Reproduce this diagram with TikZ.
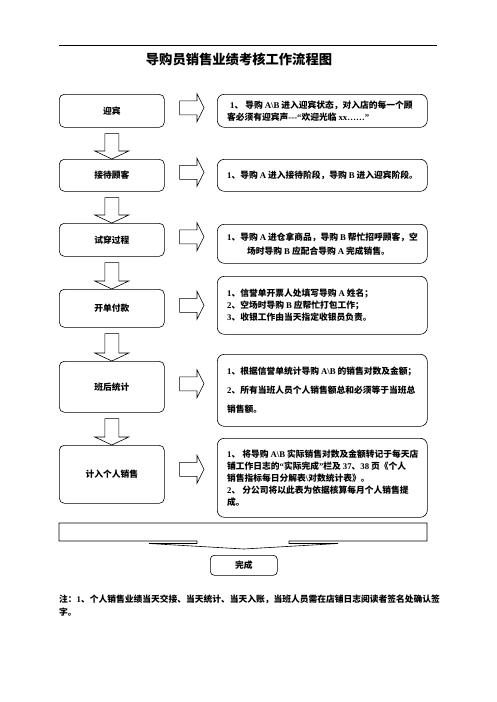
\documentclass[tikz,border=0pt]{standalone}
\usepackage{fontspec}
\setmainfont{Noto Sans CJK SC}
\newfontfamily\lat{Liberation Serif}
\usetikzlibrary{calc}
\newcommand\myrarr[3]{\draw[blk]
 ($(#1.east)+(15,#3-7)$) -- ($(#2.west |- #1.east)+(-20,#3-7)$) -- ($(#2.west |- #1.east)+(-20,#3-14)$) -- ($(#2.west |- #1.east)+(-13,#3)$) -- ($(#2.west |- #1.east)+(-20,#3+14)$) -- ($(#2.west |- #1.east)+(-20,#3+7)$) -- ($(#1.east)+(15,#3+7)$) -- cycle;}
\newcommand\mydarr[2]{\draw[blk] ([shift={(-7,6)}]#1.south) -- ([shift={(7,6)}]#1.south) -- ([shift={(7,-8)}]#2.north) -- ([shift={(17,-8)}]#2.north) -- (#2.north) -- ([shift={(-17,-8)}]#2.north) -- ([shift={(-7,-8)}]#2.north) -- cycle;}
\begin{document}
\begin{tikzpicture}[x=1pt,y=-1pt,
 every node/.style={font=\bfseries\fontsize{8.75}{12}\selectfont},
 lbox/.style={draw,rounded corners=5pt,minimum width=105pt,anchor=north west,inner sep=0pt,line width=0.6pt},
 rbox/.style={draw,rounded corners=7pt,minimum width=210pt,anchor=north west,inner sep=0pt,line width=0.6pt},
 rtext/.style={anchor=west,align=left,inner sep=0pt},
 blk/.style={draw,line width=0.6pt,fill=white}]
\fill[white] (0,0) rectangle (496,702);
\useasboundingbox (0,0) rectangle (496,702);
\draw[line width=0.7pt] (59,45) -- (437,45);
\node[font=\bfseries\fontsize{13.3}{16}\selectfont] (title) at (239,59) {导购员销售业绩考核工作流程图};
% left boxes
\node[lbox,minimum height=33pt] (b1) at (59,94) {迎宾};
\node[lbox,minimum height=32pt] (b2) at (59,159) {接待顾客};
\node[lbox,minimum height=33pt] (b3) at (59,223) {试穿过程};
\node[lbox,minimum height=38pt] (b4) at (59,289) {开单付款};
\node[lbox,minimum height=51pt] (b5) at (59,361) {班后统计};
\node[lbox,minimum height=58pt] (b6) at (59,445) {计入个人销售};
% right boxes
\node[rbox,minimum height=33pt] (r1) at (217,94) {};
\node[rbox,minimum height=32pt] (r2) at (217,159) {};
\node[rbox,minimum height=39pt] (r3) at (217,224) {};
\node[rbox,minimum height=58pt] (r4) at (217,276) {};
\node[rbox,minimum height=72pt] (r5) at (217,354) {};
\node[rbox,minimum height=79pt] (r6) at (217,438) {};
\node[rtext] (t1) at ([xshift=10pt]r1.west) {\hspace*{3pt}{\lat 1}、 导购 {\lat A\textbackslash B} 进入迎宾状态，对入店的每一个顾\\客必须有迎宾声{\lat ---“}欢迎光临 {\lat xx……”}};
\node[rtext] (t2) at ([xshift=10pt]r2.west) {{\lat 1}、导购 {\lat A} 进入接待阶段，导购 {\lat B} 进入迎宾阶段。};
\node[rtext,font=\bfseries\fontsize{8.75}{14}\selectfont] (t3) at ([xshift=10pt]r3.west) {{\lat 1}、导购 {\lat A} 进仓拿商品，导购 {\lat B} 帮忙招呼顾客，空\\\hspace*{20pt}场时导购 {\lat B} 应配合导购 {\lat A} 完成销售。};
\node[rtext] (t4) at ([xshift=10pt]r4.west) {{\lat 1}、信誉单开票人处填写导购 {\lat A} 姓名；\\{\lat 2}、空场时导购 {\lat B} 应帮忙打包工作；\\{\lat 3}、收银工作由当天指定收银员负责。};
\node[rtext,font=\bfseries\fontsize{8.75}{19}\selectfont] (t5) at ([xshift=10pt]r5.west) {{\lat 1}、根据信誉单统计导购 {\lat A\textbackslash B} 的销售对数及金额；\\{\lat 2}、所有当班人员个人销售额总和必须等于当班总\\销售额。};
\node[rtext] (t6) at ([xshift=10pt]r6.west) {{\lat 1}、 将导购 {\lat A\textbackslash B} 实际销售对数及金额转记于每天店\\铺工作日志的{\lat “}实际完成{\lat ”}栏及 {\lat 37}、{\lat 38} 页《个人\\销售指标每日分解表{\lat\textbackslash}对数统计表》。\\{\lat 2}、 分公司将以此表为依据核算每月个人销售提\\成。};
% arrows
\mydarr{b1}{b2}
\mydarr{b2}{b3}
\mydarr{b3}{b4}
\mydarr{b4}{b5}
\mydarr{b5}{b6}
\myrarr{b1}{r1}{-3}
\myrarr{b2}{r2}{-3}
\myrarr{b3}{r3}{-3}
\myrarr{b4}{r4}{-3}
\myrarr{b5}{r5}{-3}
\myrarr{b6}{r6}{-5}
% merge arrow and end
\node[draw,rounded corners=4pt,minimum width=67pt,minimum height=20pt,anchor=north west,inner sep=0pt,line width=0.6pt] (done) at (210,555) {完成};
\coordinate (mtip) at ($(done.north)+(0,-6)$);
\draw[line width=0.6pt] (59,523) -- (427,523) -- (427,541) -- (289,541) -- (289,543.5) -- (338,543.5) -- (mtip) -- (149,543.5) -- (197,543.5) -- (197,541) -- (59,541) -- cycle;
\node[anchor=north west,align=left,inner sep=0pt,font=\bfseries\fontsize{8.75}{13}\selectfont] (note) at (59,595) {注：{\lat 1}、个人销售业绩当天交接、当天统计、当天入账，当班人员需在店铺日志阅读者签名处确认签\\字。};
\end{tikzpicture}
\end{document}
